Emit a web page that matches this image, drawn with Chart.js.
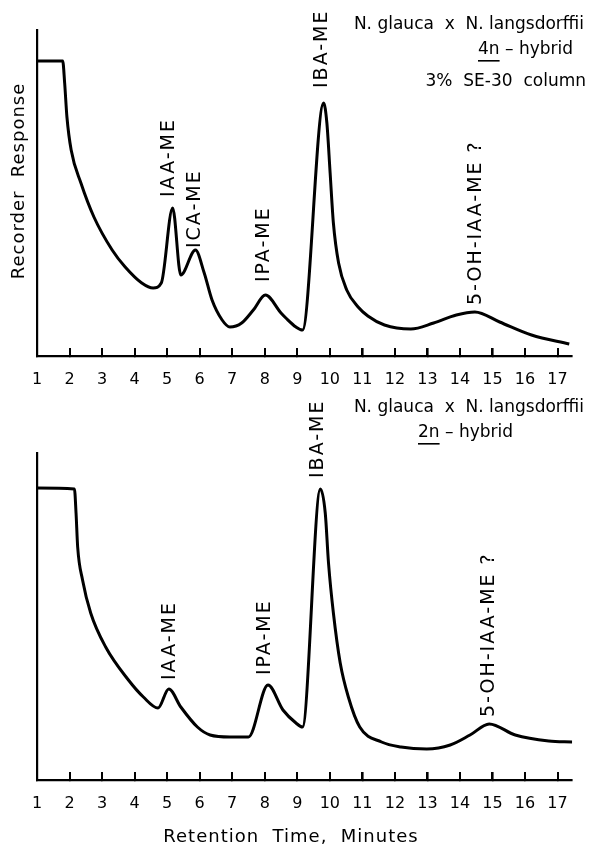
<!DOCTYPE html>
<html>
<head>
<meta charset="utf-8">
<script src="https://cdn.jsdelivr.net/npm/chart.js@4.4.1/dist/chart.umd.min.js"></script>
<style>
  body { margin: 0; background: #fff; }
  canvas { display: block; }
</style>
</head>
<body>
<canvas id="hybrid4n" width="590" height="395"></canvas>
<canvas id="hybrid2n" width="590" height="453"></canvas>
<script>
// retention time ticks (minutes)
const minuteTicks = [1, 2, 3, 4, 5, 6, 7, 8, 9, 10, 11, 12, 13, 14, 15, 16, 17];

// 4n hybrid trace
const time4n = [1, 1.79, 1.85, 1.92, 2.05, 2.35, 2.75, 3.31, 3.71, 4.22, 4.57, 4.82, 5.17, 5.42, 5.87, 6.14,
  6.38, 6.69, 6.93, 7.29, 7.65, 8.02, 8.5, 8.65, 8.96, 9.16, 9.81, 9.91, 10.01, 10.11, 10.27, 10.52,
  10.87, 11.17, 11.68, 12.49, 13.19, 13.89, 14.46, 15.22, 16.2, 17.36];
const resp4n = [295, 295, 273, 239, 206, 173, 139, 106, 89, 73, 68, 73, 148, 81, 106, 83,
  56, 36, 29, 33, 46, 61, 43, 38, 29, 26, 253, 233, 183, 133, 93, 66,
  49, 40, 31, 27, 33, 41, 44, 34, 21, 12];
const peaks4n = ["IAA-ME", "ICA-ME", "IPA-ME", "IBA-ME", "5-OH-IAA-ME ?"];
const peakTime4n = [5.07, 5.86, 7.99, 9.77, 14.5];
const peakLevel4n = [159, 108, 74, 268, 51];

// 2n hybrid trace
const time2n = [1, 2.15, 2.2, 2.25, 2.4, 2.65, 3.11, 3.81, 4.27, 4.72, 5.05, 5.42, 5.93, 6.32, 6.93,
  7.5, 8.1, 8.56, 8.96, 9.16, 9.71, 9.86, 9.96, 10.11, 10.32, 10.57, 10.92, 11.59, 12.19, 12.98,
  13.7, 14.31, 14.9, 15.7, 16.73, 17.45];
const resp2n = [292, 291, 267, 233, 200, 167, 133, 100, 83, 72, 91, 73, 53, 45, 43,
  43, 95, 70, 57, 53, 291, 267, 217, 167, 117, 83, 53, 38, 33, 31,
  35, 45, 56, 45, 39, 38];
const peaks2n = ["IAA-ME", "IPA-ME", "IBA-ME", "5-OH-IAA-ME ?"];
const peakTime2n = [5.1, 8.0, 9.65, 14.9];
const peakLevel2n = [100, 105, 302, 63];

const FONT = "'DejaVu Sans', sans-serif";

function drawPeakLabels(chart, names, times, levels) {
  const { ctx, scales } = chart;
  ctx.save();
  ctx.fillStyle = "#000";
  ctx.font = "19px " + FONT;
  ctx.letterSpacing = "2px";
  ctx.textAlign = "left";
  ctx.textBaseline = "middle";
  names.forEach((name, i) => {
    ctx.save();
    ctx.translate(scales.x.getPixelForValue(times[i]), scales.y.getPixelForValue(levels[i]));
    ctx.rotate(-Math.PI / 2);
    ctx.fillText(name, 0, 0);
    ctx.restore();
  });
  ctx.restore();
}

// tick marks point up into the plot, as on the recorder paper
function drawInnerTicks(chart) {
  const { ctx, scales, chartArea } = chart;
  ctx.save();
  ctx.strokeStyle = "#000";
  ctx.lineWidth = 2;
  ctx.beginPath();
  minuteTicks.slice(1).forEach((m) => {
    const px = Math.round(scales.x.getPixelForValue(m));
    ctx.moveTo(px, chartArea.bottom);
    ctx.lineTo(px, chartArea.bottom - 8);
  });
  ctx.stroke();
  ctx.restore();
}

function drawHybridNote(ctx, y, ploidy, startX) {
  ctx.font = "17px " + FONT;
  ctx.letterSpacing = "0px";
  ctx.textAlign = "right";
  ctx.textBaseline = "middle";
  ctx.fillText("N. glauca  x  N. langsdorffii", 584, y);
  ctx.textAlign = "left";
  ctx.fillText(ploidy, startX, y + 25);
  const w = ctx.measureText(ploidy).width;
  ctx.fillRect(startX, y + 35, w, 1.6);
  ctx.fillText(" \u2013 hybrid", startX + w, y + 25);
}

function makeChart(id, times, resp, yMax, padTop, xHeight, names, peakTimes, peakLevels, extras) {
  return new Chart(document.getElementById(id), {
    type: "line",
    data: {
      datasets: [{
        data: times.map((t, i) => ({ x: t, y: resp[i] })),
        borderColor: "#000",
        borderWidth: 3,
        pointRadius: 0,
        fill: false,
        cubicInterpolationMode: "monotone"
      }]
    },
    options: {
      responsive: false,
      animation: false,
      layout: { padding: { top: padTop, right: 10, left: 0, bottom: 0 } },
      plugins: { legend: { display: false }, tooltip: { enabled: false } },
      scales: {
        x: {
          type: "linear",
          min: 1,
          max: 17.45,
          afterBuildTicks: (s) => { s.ticks = minuteTicks.map((v) => ({ value: v })); },
          afterFit: (s) => { s.height = xHeight; },
          border: { display: true, color: "#000", width: 2.2 },
          grid: { drawOnChartArea: false, drawTicks: true, tickLength: -8, color: "#000", lineWidth: 1.6 },
          ticks: { color: "#000", font: { family: FONT, size: 16 }, padding: 22, maxRotation: 0, autoSkip: false }
        },
        y: {
          min: 0,
          max: yMax,
          afterFit: (s) => { s.width = 37; },
          border: { display: true, color: "#000", width: 2.2 },
          grid: { display: false },
          ticks: { display: false }
        }
      }
    },
    plugins: [{
      id: "notes",
      afterDraw: (chart) => {
        drawInnerTicks(chart);
        drawPeakLabels(chart, names, peakTimes, peakLevels);
        chart.ctx.save();
        chart.ctx.fillStyle = "#000";
        extras(chart.ctx);
        chart.ctx.restore();
      }
    }]
  });
}

makeChart("hybrid4n", time4n, resp4n, 326, 30, 39, peaks4n, peakTime4n, peakLevel4n, (ctx) => {
  drawHybridNote(ctx, 25, "4n", 478);
  ctx.textAlign = "right";
  ctx.fillText("3%  SE-30  column", 586, 82);
  ctx.save();
  ctx.translate(19, 181);
  ctx.rotate(-Math.PI / 2);
  ctx.textAlign = "center";
  ctx.font = "18px " + FONT;
  ctx.letterSpacing = "1px";
  ctx.fillText("Recorder  Response", 0, 0);
  ctx.restore();
});

makeChart("hybrid2n", time2n, resp2n, 327, 58, 68, peaks2n, peakTime2n, peakLevel2n, (ctx) => {
  drawHybridNote(ctx, 13, "2n", 418);
  ctx.textAlign = "center";
  ctx.font = "18px " + FONT;
  ctx.letterSpacing = "1px";
  ctx.fillText("Retention  Time,  Minutes", 291, 442);
});
</script>
</body>
</html>
